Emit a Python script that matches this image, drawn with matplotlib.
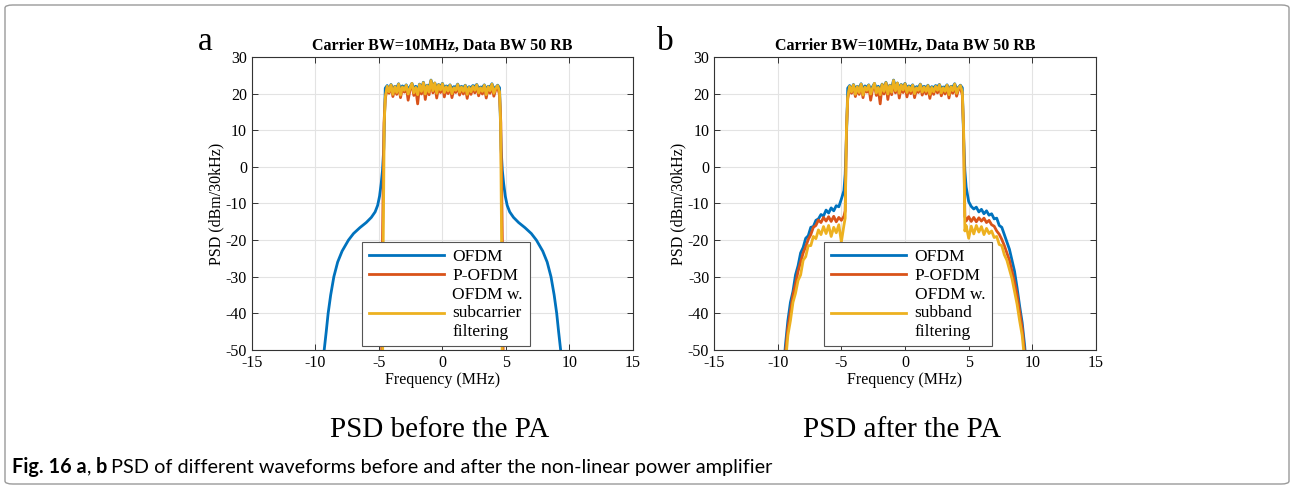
import numpy as np
from matplotlib import pyplot as plt
from matplotlib.patches import FancyBboxPatch

plt.rcParams['font.family'] = ['Liberation Serif', 'DejaVu Serif']
plt.rcParams['axes.unicode_minus'] = False

BLUE = '#0072BD'
ORANGE = '#D95319'
YELLOW = '#EDB120'

TITLE = 'Carrier BW=10MHz, Data BW 50 RB'
X_TICKS = [-15, -10, -5, 0, 5, 10, 15]
Y_TICKS = [-50, -40, -30, -20, -10, 0, 10, 20, 30]

# in-band plateau (shared by both panels), -4.5 .. 4.5 MHz
PLATEAU_BLUE = [21.5, 22.2, 21.0, 22.5, 21.3, 22.0, 21.6, 22.7, 21.2, 22.1, 21.7, 22.4, 21.1,
                21.9, 22.8, 21.4, 22.0, 21.2, 22.6, 21.5, 23.1, 21.3, 22.3, 21.6, 23.7, 21.8,
                22.9, 21.4, 22.5, 21.9, 22.8, 21.5, 22.1, 21.8, 22.4, 21.3, 21.9, 21.7, 22.6,
                21.5, 22.0, 21.6, 22.3, 21.2, 21.9, 21.6, 22.2, 21.9, 22.5, 21.4, 21.8, 21.7,
                22.4, 21.2, 22.0, 21.8, 22.7, 21.4, 21.7, 22.3, 21.6]
PLATEAU_ORANGE = [18.6, 21.6, 20.1, 22.2, 19.2, 21.4, 19.8, 22.3, 18.9, 21.5, 20.4, 22.0, 18.2,
                  21.1, 22.4, 19.5, 21.3, 17.2, 22.2, 19.9, 22.8, 18.4, 21.8, 19.7, 23.2, 20.2,
                  22.6, 18.8, 21.9, 20.3, 22.4, 19.1, 21.5, 20.0, 22.0, 18.9, 21.2, 20.3, 22.1,
                  19.6, 21.4, 19.9, 21.8, 18.7, 21.3, 19.8, 21.7, 20.2, 22.1, 19.4, 21.2, 19.9,
                  22.0, 18.8, 21.5, 20.1, 22.2, 19.3, 21.1, 21.8, 19.6]
PLATEAU_YELLOW = [19.0, 22.0, 20.5, 22.4, 19.8, 21.9, 20.3, 22.6, 19.6, 21.8, 20.9, 22.3, 19.9,
                  21.5, 22.8, 20.2, 21.7, 19.7, 22.5, 20.6, 23.0, 19.9, 22.2, 20.4, 23.6, 20.8,
                  22.9, 20.1, 22.4, 21.0, 22.7, 20.3, 21.9, 20.7, 22.3, 20.0, 21.6, 20.9, 22.5,
                  20.4, 21.8, 20.6, 22.2, 19.8, 21.7, 20.5, 22.0, 20.9, 22.4, 20.2, 21.6, 20.6,
                  22.3, 19.7, 21.9, 20.8, 22.6, 20.1, 21.5, 22.2, 20.5]

# panel a: before the PA
A_BLUE_LEFT_F = [-9.6, -9.31, -9.15, -9.0, -8.8, -8.55, -8.25, -7.9, -7.4, -7.0, -6.5, -6.0,
                 -5.6, -5.3, -5.1, -4.95, -4.82, -4.72, -4.62, -4.55]
A_BLUE_LEFT = [-57, -50, -45, -40, -35, -30, -26, -23, -20, -18.2, -16.6, -15.2,
               -13.8, -12.3, -10.5, -8, -4.5, -1, 5, 15]
A_BLUE_RIGHT_F = [4.55, 4.62, 4.72, 4.82, 4.95, 5.1, 5.3, 5.6, 6.0, 6.5, 7.0, 7.4,
                  7.9, 8.25, 8.55, 8.8, 9.0, 9.15, 9.31, 9.6]
A_BLUE_RIGHT = [15, 5, -1, -4.5, -8, -10.5, -12.3, -13.8, -15.2, -16.6, -18.2, -20,
                -23, -26, -30, -35, -40, -45, -50, -57]
A_ORANGE_LEFT_F = [-4.8, -4.72, -4.6]
A_ORANGE_LEFT = [-60, -20, 12]
A_ORANGE_RIGHT_F = [4.6, 4.72, 4.8]
A_ORANGE_RIGHT = [12, -20, -60]
A_YELLOW_LEFT_F = [-4.72, -4.66, -4.58]
A_YELLOW_LEFT = [-60, -20, 12]
A_YELLOW_RIGHT_F = [4.58, 4.66, 4.72]
A_YELLOW_RIGHT = [12, -20, -60]

# panel b: after the PA (spectral regrowth)
B_LEFT_F = [-9.6, -9.4, -9.2, -9.0, -8.8, -8.6, -8.4, -8.2, -8.0, -7.8, -7.6, -7.4, -7.2, -7.0,
            -6.8, -6.6, -6.4, -6.2, -6.0, -5.8, -5.6, -5.4, -5.2, -5.0, -4.8, -4.7, -4.6]
B_RIGHT_F = [4.6, 4.7, 4.8, 5.0, 5.2, 5.4, 5.6, 5.8, 6.0, 6.2, 6.4, 6.6, 6.8, 7.0, 7.2, 7.4,
             7.6, 7.8, 8.0, 8.2, 8.4, 8.6, 8.8, 9.0, 9.2, 9.4, 9.6]
B_BLUE_LEFT = [-58, -49, -42, -37, -34, -29.5, -27, -23.5, -22, -19.5, -18.8, -16.5, -16.3,
               -14.6, -14.2, -13.0, -13.4, -11.8, -12.6, -11.2, -12.0, -10.6, -10.9, -8.8,
               -6.5, -2, 8]
B_BLUE_RIGHT = [8, -1, -5.5, -9.5, -10.8, -11.5, -11.0, -12.3, -11.6, -12.8, -12.0, -13.2,
                -12.8, -14.2, -14.0, -16.0, -16.5, -18.5, -20.5, -22.5, -25.5, -28.5, -33,
                -38, -42.5, -49, -58]
B_ORANGE_LEFT = [-60, -51, -44, -39.5, -35, -32, -28.5, -26, -23.5, -21.8, -19.8, -18.5,
                 -16.5, -16, -14.5, -15.2, -13.8, -14.8, -13.6, -14.9, -13.5, -15.0, -13.8,
                 -14.6, -13.5, -12, 10]
B_ORANGE_RIGHT = [10, -13.5, -14.8, -13.6, -14.9, -13.8, -15.0, -13.9, -14.8, -14.0, -15.2,
                  -14.6, -15.8, -16.2, -17.5, -18.4, -19.8, -21.5, -23.5, -25.5, -28.5,
                  -31.5, -35, -39.5, -44, -51, -60]
B_YELLOW_LEFT = [-62, -54, -46, -42, -37, -34.5, -31, -29.5, -25.5, -24.5, -21.5, -21.5,
                 -19, -19.6, -17.2, -18.5, -16.3, -18.2, -16.0, -19.0, -16.5, -18.0, -15.8,
                 -20.5, -16.0, -14, 10]
B_YELLOW_RIGHT = [10, -17.5, -16.0, -19.5, -16.2, -18.3, -16.0, -17.8, -16.3, -18.5, -16.8,
                  -18.2, -17.5, -19.3, -19.0, -21.2, -21.5, -24.0, -25.5, -28.0, -30.5, -34,
                  -37.5, -42, -46, -53, -62]

LEGEND_A = ['OFDM', 'P-OFDM', 'OFDM w.\nsubcarrier\nfiltering']
LEGEND_B = ['OFDM', 'P-OFDM', 'OFDM w.\nsubband\nfiltering']


def trace(left_f, left, plateau, right_f, right):
    plateau_f = np.linspace(-4.5, 4.5, len(plateau))
    f = np.concatenate([left_f, plateau_f, right_f])
    y = np.concatenate([left, plateau, right])
    return f, y


def draw_panel(ax, series, labels):
    lines = []
    for (f, y), color in zip(series, [BLUE, ORANGE, YELLOW]):
        lines.extend(ax.plot(f, y, color=color, lw=2.0))
    ax.set_xlim(-15, 15)
    ax.set_ylim(-50, 30)
    ax.set_xticks(X_TICKS)
    ax.set_yticks(Y_TICKS)
    ax.tick_params(direction='in', top=True, right=True, labelsize=11.5, length=4,
                   color='#333333', width=0.7)
    ax.grid(True, color='#e3e3e3', lw=0.8)
    ax.set_axisbelow(True)
    for sp in ax.spines.values():
        sp.set_color('#333333')
        sp.set_linewidth(0.8)
    ax.set_title(TITLE, fontsize=11.5, fontweight='bold', pad=5)
    ax.set_xlabel('Frequency (MHz)', fontsize=11.5, labelpad=1)
    ax.set_ylabel('PSD (dBm/30kHz)', fontsize=11.5, labelpad=1)
    leg = ax.legend(lines, labels, loc='lower left', bbox_to_anchor=(0.289, 0.012),
                    borderaxespad=0, fontsize=12.5, handlelength=4.3, handletextpad=0.5,
                    labelspacing=0.15, borderpad=0.4, fancybox=False, framealpha=1,
                    edgecolor='#555555')
    leg.get_frame().set_linewidth(0.8)


fig = plt.figure(figsize=(12.94, 4.88), dpi=100)

ax_a = fig.add_axes([0.1947, 0.2828, 0.2944, 0.6004])
draw_panel(ax_a, [
    trace(A_BLUE_LEFT_F, A_BLUE_LEFT, PLATEAU_BLUE, A_BLUE_RIGHT_F, A_BLUE_RIGHT),
    trace(A_ORANGE_LEFT_F, A_ORANGE_LEFT, PLATEAU_ORANGE, A_ORANGE_RIGHT_F, A_ORANGE_RIGHT),
    trace(A_YELLOW_LEFT_F, A_YELLOW_LEFT, PLATEAU_YELLOW, A_YELLOW_RIGHT_F, A_YELLOW_RIGHT),
], LEGEND_A)

ax_b = fig.add_axes([0.5518, 0.2828, 0.2952, 0.6004])
draw_panel(ax_b, [
    trace(B_LEFT_F, B_BLUE_LEFT, PLATEAU_BLUE, B_RIGHT_F, B_BLUE_RIGHT),
    trace(B_LEFT_F, B_ORANGE_LEFT, PLATEAU_ORANGE, B_RIGHT_F, B_ORANGE_RIGHT),
    trace(B_LEFT_F, B_YELLOW_LEFT, PLATEAU_YELLOW, B_RIGHT_F, B_YELLOW_RIGHT),
], LEGEND_B)

# panel letters and sub-captions
fig.text(205 / 1294, 1 - 42 / 488, 'a', fontsize=24, ha='center', va='center')
fig.text(665 / 1294, 1 - 42 / 488, 'b', fontsize=24, ha='center', va='center')
fig.text(440 / 1294, 1 - 430 / 488, 'PSD before the PA', fontsize=21, ha='center', va='center')
fig.text(902 / 1294, 1 - 430 / 488, 'PSD after the PA', fontsize=21, ha='center', va='center')

# figure caption
cap_y = 1 - 467 / 488
cap_kw = dict(fontsize=14.3, family='Lato', va='center')
t1 = fig.text(12 / 1294, cap_y, 'Fig. 16 a', fontweight='bold', **cap_kw)
fig.canvas.draw()
bb = t1.get_window_extent()
t2 = fig.text(bb.x1 / 1294, cap_y, ', ', **cap_kw)
bb = t2.get_window_extent()
t3 = fig.text(bb.x1 / 1294, cap_y, 'b', fontweight='bold', **cap_kw)
bb = t3.get_window_extent()
fig.text(bb.x1 / 1294 + 0.003, cap_y,
         'PSD of different waveforms before and after the non-linear power amplifier',
         **cap_kw)

# outer frame
fig.patches.append(FancyBboxPatch((5 / 1294, 4 / 488), 1284 / 1294, 479 / 488,
                                  boxstyle='round,pad=0,rounding_size=0.006',
                                  transform=fig.transFigure, fill=False,
                                  edgecolor='#9a9a9a', lw=1.0))

plt.savefig('out.png', dpi=100)
